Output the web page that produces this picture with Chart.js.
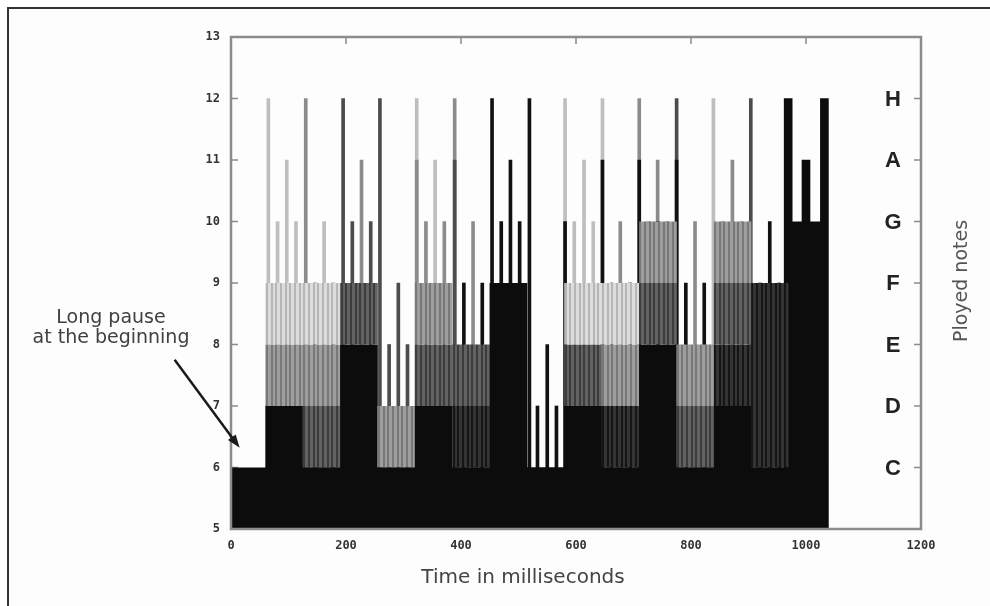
<!DOCTYPE html>
<html>
<head>
<meta charset="utf-8">
<script src="https://cdn.jsdelivr.net/npm/chart.js@4.4.1/dist/chart.umd.min.js"></script>
<style>
  body { margin: 0; background: #fff; }
  #wrap { position: relative; width: 990px; height: 606px; overflow: hidden; }
  #frame { position: absolute; left: 7px; top: 7px; width: 990px; height: 606px;
           border-left: 2px solid #333; border-top: 2px solid #333; background: #fdfdfd; }
  #chart { position: absolute; left: 0; top: 0; }
</style>
</head>
<body>
<div id="wrap">
  <div id="frame"></div>
  <canvas id="chart" width="990" height="606"></canvas>
</div>
<script>
// time slots (ms) of the played segments, each 65 ms long
const segStart = [60, 125, 190, 255, 320, 385, 450, 515, 580, 645, 710, 775, 840, 905, 970];
const segLength = 65;
const baseLevel = 6;     // lowest note held for the whole piece
const playEnd = 1035;

// shaded bands inside every segment: segment index, from note, to note, shade
const bandSeg = [0, 0, 0,  1, 1, 1, 1,  2, 2,  3, 3,  4, 4, 4,  5, 5, 5,  6,  7,
                 8, 8, 8,  9, 9, 9, 9,  10, 10, 10,  11, 11, 11,  12, 12, 12, 12,  13, 13,  14];
const bandLow = [5, 7, 8,  5, 6, 7, 8,  5, 8,  5, 6,  5, 7, 8,  5, 6, 7,  5,  5,
                 5, 7, 8,  5, 6, 7, 8,  5, 8, 9,  5, 6, 7,  5, 7, 8, 9,  5, 6,  5];
const bandHigh = [7, 8, 9,  6, 7, 8, 9,  8, 9,  6, 7,  7, 8, 9,  6, 7, 8,  9,  6,
                  7, 8, 9,  6, 7, 8, 9,  8, 9, 10,  6, 7, 8,  7, 8, 9, 10,  6, 9,  10];
const bandShade = ['K', 'M', 'L',  'K', 'D', 'M', 'L',  'K', 'D',  'K', 'M',  'K', 'D', 'M',  'K', 'X', 'D',  'K',  'K',
                   'K', 'D', 'L',  'K', 'X', 'M', 'L',  'K', 'D', 'M',  'K', 'D', 'M',  'K', 'X', 'D', 'M',  'K', 'X',  'K'];

// short notes (thin spikes)
const spikeTime = [65, 81, 97, 113,  130, 146, 162, 178,  195, 211, 227, 243,  259, 275, 291, 307,
                   323, 323, 339, 355, 371,  389, 389, 405, 421, 437,  454, 470, 486, 502,  519, 533, 550, 566,
                   581, 581, 597, 614, 630,  646, 646, 662, 677, 694,  710, 710, 726, 742, 742, 759,
                   775, 775, 791, 807, 823,  839, 855, 872, 888,  904, 920, 937, 953];
const spikeTop = [12, 10, 11, 10,  12, 9, 10, 9,  12, 10, 11, 10,  12, 8, 9, 8,
                  12, 11, 10, 11, 10,  12, 11, 9, 10, 9,  12, 10, 11, 10,  12, 7, 8, 7,
                  12, 10, 10, 11, 10,  12, 11, 9, 10, 9,  12, 11, 10, 11, 10, 10,
                  12, 11, 9, 10, 9,  12, 10, 11, 10,  12, 9, 10, 9];
const spikeShade = ['L', 'L', 'L', 'L',  'M', 'D', 'L', 'D',  'D', 'D', 'M', 'D',  'D', 'D', 'D', 'D',
                    'L', 'M', 'M', 'L', 'M',  'M', 'D', 'K', 'M', 'K',  'K', 'K', 'K', 'K',  'K', 'K', 'K', 'K',
                    'L', 'K', 'L', 'L', 'L',  'L', 'K', 'K', 'M', 'K',  'M', 'K', 'M', 'M', 'K', 'M',
                    'D', 'K', 'K', 'M', 'K',  'L', 'M', 'M', 'M',  'D', 'K', 'K', 'K'];

// the wider notes of the final segment
const wideTime = [969, 1000, 1032];
const wideTop = [12, 11, 12];

const noteLevels = [6, 7, 8, 9, 10, 11, 12];
const noteNames = ['C', 'D', 'E', 'F', 'G', 'A', 'H'];

function stripes(base, line) {
  const c = document.createElement('canvas');
  c.width = 14; c.height = 4;
  const g = c.getContext('2d');
  g.fillStyle = base;
  g.fillRect(0, 0, 14, 4);
  g.fillStyle = line;
  [0, 5, 9].forEach(px => g.fillRect(px, 0, 2, 4));
  return g.createPattern(c, 'repeat');
}

const shadeFill = {
  K: '#0c0c0c',
  X: stripes('#343434', '#151515'),
  D: stripes('#626262', '#3c3c3c'),
  M: stripes('#9e9e9e', '#787878'),
  L: stripes('#dcdcdc', '#b6b6b6')
};
const spikeColor = { K: '#111111', D: '#4c4c4c', M: '#8c8c8c', L: '#bebebe' };

const frameAndLabels = {
  id: 'frameAndLabels',
  beforeDatasetsDraw(chart) {
    const { ctx, chartArea: a, scales: { x, y } } = chart;
    ctx.save();
    ctx.strokeStyle = '#8a8a8a';
    ctx.lineWidth = 1.5;
    ctx.beginPath();
    x.ticks.forEach(t => {
      const px = x.getPixelForValue(t.value);
      ctx.moveTo(px, a.top); ctx.lineTo(px, a.top + 7);
      ctx.moveTo(px, a.bottom); ctx.lineTo(px, a.bottom - 7);
    });
    y.ticks.forEach(t => {
      const py = y.getPixelForValue(t.value);
      ctx.moveTo(a.left, py); ctx.lineTo(a.left + 7, py);
    });
    noteLevels.forEach(v => {
      const py = y.getPixelForValue(v);
      ctx.moveTo(a.right, py); ctx.lineTo(a.right - 7, py);
    });
    ctx.stroke();
    ctx.restore();
  },
  afterDatasetsDraw(chart) {
    const { ctx, chartArea: a, scales: { x, y } } = chart;
    ctx.save();
    ctx.strokeStyle = '#8c8c8c';
    ctx.lineWidth = 2.5;
    ctx.strokeRect(a.left, a.top, a.right - a.left, a.bottom - a.top);

    // note names inside the right border
    ctx.fillStyle = '#222';
    ctx.font = 'bold 22px "Liberation Sans", Arial, sans-serif';
    ctx.textAlign = 'center';
    ctx.textBaseline = 'middle';
    noteLevels.forEach((v, i) => ctx.fillText(noteNames[i], a.right - 28, y.getPixelForValue(v) + 1));

    ctx.fillStyle = '#555';
    ctx.font = '19px "DejaVu Sans", sans-serif';
    ctx.save();
    ctx.translate(a.right + 41, 281);
    ctx.rotate(-Math.PI / 2);
    ctx.fillText('Ployed notes', 0, 0);
    ctx.restore();

    ctx.font = '20px "DejaVu Sans", sans-serif';
    ctx.fillStyle = '#444';
    ctx.fillText('Time in milliseconds', 523, 578);

    // annotation for the opening pause
    ctx.font = '19px "DejaVu Sans", sans-serif';
    ctx.fillStyle = '#404040';
    ctx.fillText('Long pause', 111, 318);
    ctx.fillText('at the beginning', 111, 338);

    const tx = x.getPixelForValue(15), ty = y.getPixelForValue(6.32);
    const sx = tx - 65, sy = ty - 88;
    const ang = Math.atan2(ty - sy, tx - sx);
    ctx.strokeStyle = '#1a1a1a';
    ctx.fillStyle = '#1a1a1a';
    ctx.lineWidth = 2.5;
    ctx.beginPath();
    ctx.moveTo(sx, sy);
    ctx.lineTo(tx - 10 * Math.cos(ang), ty - 10 * Math.sin(ang));
    ctx.stroke();
    ctx.beginPath();
    ctx.moveTo(tx, ty);
    ctx.lineTo(tx - 14 * Math.cos(ang - 0.35), ty - 14 * Math.sin(ang - 0.35));
    ctx.lineTo(tx - 14 * Math.cos(ang + 0.35), ty - 14 * Math.sin(ang + 0.35));
    ctx.closePath();
    ctx.fill();
    ctx.restore();
  }
};

const tickFont = { family: '"DejaVu Sans Mono", monospace', size: 12, weight: 'bold' };

new Chart(document.getElementById('chart'), {
  type: 'bar',
  data: {
    datasets: [
      {
        type: 'line',
        data: [{ x: 0, y: baseLevel }, { x: playEnd, y: baseLevel }],
        fill: { value: 5 },
        backgroundColor: '#0c0c0c',
        borderWidth: 0,
        pointRadius: 0,
        order: 0
      },
      {
        data: bandSeg.map((s, i) => ({ x: segStart[s] + segLength / 2, y: [bandLow[i], bandHigh[i]] })),
        backgroundColor: bandShade.map(k => shadeFill[k]),
        borderWidth: 0,
        grouped: false,
        barPercentage: 1.01,
        categoryPercentage: 1,
        xAxisID: 'x',
        order: 1
      },
      {
        data: spikeTime.map((t, i) => ({ x: t, y: [5, spikeTop[i]] })),
        backgroundColor: spikeShade.map(k => spikeColor[k]),
        borderWidth: 0,
        grouped: false,
        barThickness: 3,
        xAxisID: 'xs',
        order: 2
      },
      {
        data: wideTime.map((t, i) => ({ x: t, y: [5, wideTop[i]] })),
        backgroundColor: '#0c0c0c',
        borderWidth: 0,
        grouped: false,
        barThickness: 8,
        xAxisID: 'xs',
        order: 2
      }
    ]
  },
  options: {
    responsive: false,
    animation: false,
    devicePixelRatio: 1,
    events: [],
    layout: { padding: { top: 37, right: 69, left: 0, bottom: 0 } },
    plugins: { legend: { display: false }, tooltip: { enabled: false } },
    scales: {
      x: {
        type: 'linear', min: 0, max: 1200, offset: false,
        grid: { display: false, drawTicks: false, offset: false },
        border: { display: false },
        ticks: { stepSize: 200, autoSkip: false, maxRotation: 0, padding: 10, color: '#333', font: tickFont,
                 callback: v => String(v) },
        afterFit(s) { s.height = 77; }
      },
      xs: { type: 'linear', axis: 'x', min: 0, max: 1200, offset: false, display: false },
      y: {
        type: 'linear', min: 5, max: 13,
        grid: { display: false, drawTicks: false },
        border: { display: false },
        ticks: { stepSize: 1, padding: 11, color: '#333', font: tickFont },
        afterFit(s) { s.width = 231; }
      }
    }
  },
  plugins: [frameAndLabels]
});
</script>
</body>
</html>
